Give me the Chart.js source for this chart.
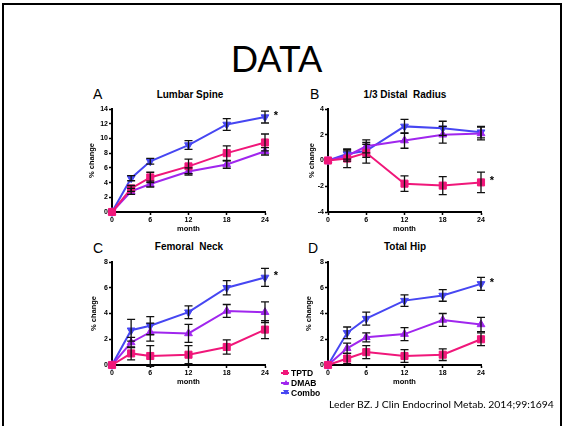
<!DOCTYPE html>
<html>
<head>
<meta charset="utf-8">
<script src="https://cdn.jsdelivr.net/npm/chart.js@4.4.0/dist/chart.umd.min.js"></script>
<style>
  body { margin: 0; width: 565px; height: 426px; background: #fff; position: relative; overflow: hidden;
         font-family: "Liberation Sans", Arial, sans-serif; }
  #frame { position: absolute; left: 2px; top: 3px; width: 556px; height: 440px; border: 2px solid #000; }
  #heading { position: absolute; left: -6px; width: 565px; top: 36px; text-align: center;
             font-family: Lato, "Open Sans", sans-serif; font-size: 36px; color: #000; }
  .panel { position: absolute; }
  .letter { position: absolute; font-size: 14px; color: #000; }
  .ptitle { position: absolute; font-size: 10px; font-weight: bold; color: #000; transform: translateX(-50%); white-space: pre; }
  #legend { position: absolute; left: 281px; top: 368px; font-size: 8.5px; font-weight: bold; line-height: 10px; }
  #legend div { position: relative; padding-left: 10px; }
  #legend i { position: absolute; left: 0; top: 4px; width: 8px; height: 2px; }
  #legend b { position: absolute; left: 2px; top: 2px; width: 0; height: 0; }
  #cite { position: absolute; left: 329px; top: 398px; font-family: Lato, "Open Sans", sans-serif; font-size: 10.4px;
          color: #000; white-space: nowrap; }
</style>
</head>
<body>
<div id="frame"></div>
<div id="heading">DATA</div>

<div class="letter" style="left:93px;top:86px">A</div>
<div class="ptitle" style="left:190px;top:89px">Lumbar Spine</div>
<div class="letter" style="left:310px;top:86px">B</div>
<div class="ptitle" style="left:405px;top:89px">1/3 Distal  Radius</div>
<div class="letter" style="left:93px;top:240px">C</div>
<div class="ptitle" style="left:189px;top:241px">Femoral  Neck</div>
<div class="letter" style="left:308px;top:240px">D</div>
<div class="ptitle" style="left:405px;top:241px">Total Hip</div>

<canvas id="spine" class="panel" width="204" height="133" style="left:78px;top:100px"></canvas>
<canvas id="radius" class="panel" width="204" height="133" style="left:294px;top:100px"></canvas>
<canvas id="neck" class="panel" width="204" height="133" style="left:78px;top:253px"></canvas>
<canvas id="hip" class="panel" width="204" height="133" style="left:294px;top:253px"></canvas>

<div id="legend">
  <div><i style="background:#f0177a"></i><b style="width:5px;height:5px;background:#f0177a"></b>TPTD</div>
  <div><i style="background:#a026ee"></i><b style="border-left:3px solid transparent;border-right:3px solid transparent;border-bottom:5px solid #a026ee"></b>DMAB</div>
  <div><i style="background:#4646f2"></i><b style="border-left:3px solid transparent;border-right:3px solid transparent;border-top:5px solid #4646f2"></b>Combo</div>
</div>
<div id="cite">Leder BZ. J Clin Endocrinol Metab. 2014;99:1694</div>

<script>
// months of follow-up
const months = [0, 3, 6, 12, 18, 24];

// Lumbar spine, % change (mean and error)
const spineTptd = [0, 3.2, 4.7, 6.2, 8.0, 9.45];
const spineTptdErr = [0, 0.4, 0.7, 1.0, 1.0, 1.15];
const spineDmab = [0, 2.8, 3.8, 5.5, 6.45, 8.25];
const spineDmabErr = [0, 0.4, 0.4, 0.5, 0.5, 0.5];
const spineCombo = [0, 4.6, 6.9, 9.1, 11.9, 12.9];
const spineComboErr = [0, 0.35, 0.4, 0.6, 0.8, 0.8];

// 1/3 distal radius
const radiusTptd = [0, 0.15, 0.6, -1.8, -1.95, -1.7];
const radiusTptdErr = [0, 0.7, 0.8, 0.6, 0.7, 0.8];
const radiusDmab = [0, 0.35, 1.1, 1.55, 2.0, 2.1];
const radiusDmabErr = [0, 0.4, 0.5, 0.6, 0.65, 0.5];
const radiusCombo = [0, 0.5, 0.75, 2.65, 2.5, 2.2];
const radiusComboErr = [0, 0.4, 0.5, 0.55, 0.55, 0.45];

// femoral neck
const neckTptd = [0, 0.9, 0.7, 0.8, 1.4, 2.75];
const neckTptdErr = [0, 0.5, 0.8, 0.7, 0.55, 0.7];
const neckDmab = [0, 1.75, 2.55, 2.45, 4.2, 4.1];
const neckDmabErr = [0, 0.4, 0.7, 0.7, 0.5, 0.8];
const neckCombo = [0, 2.7, 3.05, 4.1, 6.0, 6.8];
const neckComboErr = [0, 0.85, 0.7, 0.5, 0.55, 0.7];

// total hip
const hipTptd = [0, 0.5, 1.0, 0.7, 0.8, 2.0];
const hipTptdErr = [0, 0.4, 0.5, 0.5, 0.45, 0.5];
const hipDmab = [0, 1.3, 2.15, 2.4, 3.5, 3.15];
const hipDmabErr = [0, 0.4, 0.35, 0.5, 0.5, 0.55];
const hipCombo = [0, 2.5, 3.6, 5.0, 5.4, 6.3];
const hipComboErr = [0, 0.45, 0.5, 0.45, 0.45, 0.5];

const pink = "#f0177a";
const purple = "#a026ee";
const blue = "#4646f2";

// black error bars with caps, drawn on top of the lines
const errorBars = {
  id: "errorBars",
  afterDatasetsDraw(chart) {
    const ctx = chart.ctx, xs = chart.scales.x, ys = chart.scales.y;
    ctx.save();
    ctx.strokeStyle = "#111";
    ctx.lineWidth = 1.3;
    chart.data.datasets.forEach(ds => {
      ds.data.forEach((p, i) => {
        const e = ds.errors[i];
        if (!e) return;
        const x = xs.getPixelForValue(p.x);
        const lo = ys.getPixelForValue(p.y - e);
        const hi = ys.getPixelForValue(p.y + e);
        ctx.beginPath();
        ctx.moveTo(x, lo); ctx.lineTo(x, hi);
        ctx.moveTo(x - 4, lo); ctx.lineTo(x + 4, lo);
        ctx.moveTo(x - 4, hi); ctx.lineTo(x + 4, hi);
        ctx.stroke();
      });
    });
    ctx.restore();
  }
};

// significance asterisk next to the last point of one series
const starMark = {
  id: "starMark",
  afterDraw(chart, args, opts) {
    const ds = chart.data.datasets[opts.dataset];
    const last = ds.data[ds.data.length - 1];
    const x = chart.scales.x.getPixelForValue(last.x) + 11;
    const y = chart.scales.y.getPixelForValue(last.y);
    const ctx = chart.ctx;
    ctx.save();
    ctx.fillStyle = "#000";
    ctx.font = "bold 11px 'Liberation Sans', Arial";
    ctx.textAlign = "center";
    ctx.textBaseline = "middle";
    ctx.fillText("*", x, y - 1);
    ctx.restore();
  }
};

function series(values, errs, color, style, rotation, radius) {
  return {
    data: values.map((v, i) => ({ x: months[i], y: v })),
    errors: errs,
    borderColor: color,
    backgroundColor: color,
    borderWidth: 2,
    pointStyle: style,
    rotation: rotation,
    pointRadius: radius,
    pointBorderWidth: 1,
    tension: 0,
    clip: false
  };
}

const tickFont = { family: "'Liberation Sans', Arial", size: 7, weight: "bold" };
const titleFont = { family: "'Liberation Sans', Arial", size: 7.5, weight: "bold" };

function panel(id, tptd, tptdErr, dmab, dmabErr, combo, comboErr, yMin, yMax, star, labelPad) {
  new Chart(document.getElementById(id), {
    type: "line",
    data: {
      datasets: [
        series(tptd, tptdErr, pink, "rect", 0, 5),
        series(dmab, dmabErr, purple, "triangle", 0, 4.5),
        series(combo, comboErr, blue, "triangle", 180, 4.5)
      ]
    },
    options: {
      responsive: false,
      animation: false,
      layout: { padding: { top: 9, right: 17, left: 0, bottom: 0 } },
      plugins: {
        legend: { display: false },
        tooltip: { enabled: false },
        starMark: { dataset: star }
      },
      scales: {
        x: {
          type: "linear",
          min: 0, max: 24,
          afterFit: s => { s.height = 21; },
          ticks: { stepSize: 6, color: "#000", font: tickFont, padding: 1, maxRotation: 0 },
          grid: { drawOnChartArea: false, tickLength: 3, color: "#000", tickWidth: 1.5 },
          border: { color: "#000", width: 2 },
          title: { display: true, text: "month", color: "#000", font: titleFont, padding: 0 }
        },
        y: {
          min: yMin, max: yMax,
          afterFit: s => { s.width = 34; },
          ticks: { stepSize: 2, color: "#000", font: tickFont, padding: 1, autoSkip: false },
          grid: { drawOnChartArea: false, tickLength: 3, color: "#000", tickWidth: 1.5 },
          border: { color: "#000", width: 2 },
          title: { display: true, text: "% change", color: "#000", font: titleFont, padding: { top: labelPad, bottom: 0 } }
        }
      }
    },
    plugins: [errorBars, starMark]
  });
}

panel("spine", spineTptd, spineTptdErr, spineDmab, spineDmabErr, spineCombo, spineComboErr, 0, 14, 2, 9.5);
panel("radius", radiusTptd, radiusTptdErr, radiusDmab, radiusDmabErr, radiusCombo, radiusComboErr, -4, 4, 0, 13.5);
panel("neck", neckTptd, neckTptdErr, neckDmab, neckDmabErr, neckCombo, neckComboErr, 0, 8, 2, 11);
panel("hip", hipTptd, hipTptdErr, hipDmab, hipDmabErr, hipCombo, hipComboErr, 0, 8, 2, 10);
</script>
</body>
</html>
